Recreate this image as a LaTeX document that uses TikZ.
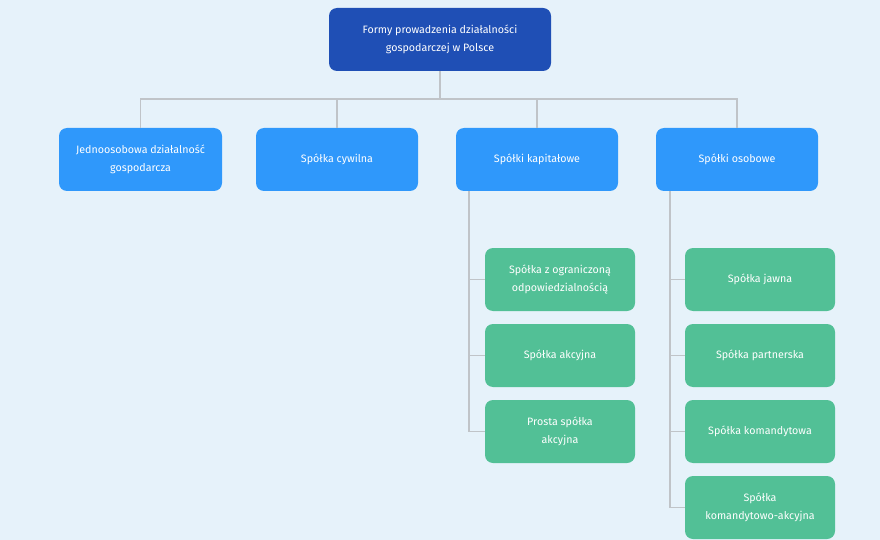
\documentclass[tikz,border=0pt]{standalone}
\usepackage{fontspec}
\setmainfont{Fira Sans}
\definecolor{bgc}{HTML}{E6F2FA}
\definecolor{topc}{HTML}{1F4FB5}
\definecolor{midc}{HTML}{2F98FB}
\definecolor{leafc}{HTML}{52C096}
\definecolor{linec}{HTML}{C0C4C8}
\begin{document}
\begin{tikzpicture}[x=1pt,y=-1pt,
  box/.style={rounded corners=8pt, text=white, align=center, inner sep=0pt,
    font=\fontsize{10.7}{18}\selectfont, minimum height=63pt},
  topbox/.style={box, fill=topc, minimum width=222pt},
  midbox/.style={box, fill=midc, minimum width=163pt},
  leafbox/.style={box, fill=leafc, minimum width=150pt},
  conn/.style={draw=linec, line width=1.8pt}]
\fill[bgc] (0,0) rectangle (880,540);
\useasboundingbox (0,0) rectangle (880,540);
\node[topbox] (top) at (440,39.5) {Formy prowadzenia działalności\\gospodarczej w Polsce};
\node[midbox] (jdg) at (140.5,159.5) {Jednoosobowa działalność\\gospodarcza};
\node[midbox, minimum width=162pt] (cyw) at (337,159.5) {Spółka cywilna};
\node[midbox, minimum width=162pt] (kap) at (537,159.5) {Spółki kapitałowe};
\node[midbox, minimum width=162pt] (oso) at (737,159.5) {Spółki osobowe};
\node[leafbox] (zoo) at (560,279.5) {Spółka z ograniczoną\\odpowiedzialnością};
\node[leafbox] (sa) at (560,355.5) {Spółka akcyjna};
\node[leafbox] (psa) at (560,431.5) {Prosta spółka\\akcyjna};
\node[leafbox] (sj) at (760,279.5) {Spółka jawna};
\node[leafbox] (sp) at (760,355.5) {Spółka partnerska};
\node[leafbox] (sk) at (760,431.5) {Spółka komandytowa};
\node[leafbox] (ska) at (760,507.5) {Spółka\\komandytowo-akcyjna};
\coordinate (bus) at (440,99);
\draw[conn] (top.south) -- (bus);
\draw[conn] (jdg.north) |- (bus) -| (oso.north);
\draw[conn] (cyw.north) -- (cyw.north |- bus);
\draw[conn] (kap.north) -- (kap.north |- bus);
\coordinate (kx) at (469,0);
\coordinate (ox) at (670,0);
\draw[conn] (kap.south -| kx) |- (psa.west);
\draw[conn] (zoo.west) -- (zoo.west -| kx);
\draw[conn] (sa.west) -- (sa.west -| kx);
\draw[conn] (oso.south -| ox) |- (ska.west);
\draw[conn] (sj.west) -- (sj.west -| ox);
\draw[conn] (sp.west) -- (sp.west -| ox);
\draw[conn] (sk.west) -- (sk.west -| ox);
\end{tikzpicture}
\end{document}
